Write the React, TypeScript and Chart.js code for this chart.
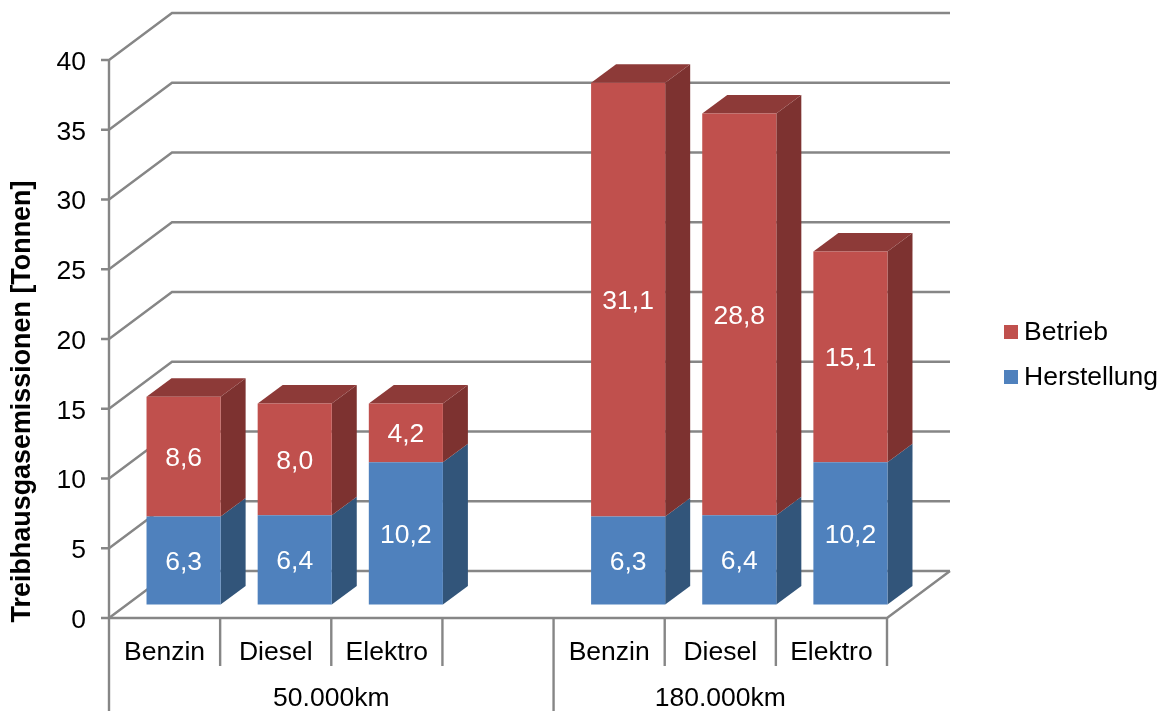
import React, { useEffect, useRef } from "react";
import { Chart, registerables } from "chart.js";

Chart.register(...registerables);

// Cars along the axis; the empty slot separates the two mileage groups.
const categories = ["Benzin", "Diesel", "Elektro", "", "Benzin", "Diesel", "Elektro"];
const herstellung = [6.3, 6.4, 10.2, null, 6.3, 6.4, 10.2];
const betrieb = [8.6, 8.0, 4.2, null, 31.1, 28.8, 15.1];
const groupLabels = ["50.000km", "180.000km"];
const groupEdges = [[0, 4], [4, 7]];
const yTitle = "Treibhausgasemissionen [Tonnen]";

const FONT = '"Liberation Sans"';
const SIZE = 26.5;
const LINE = "#868686";

// Oblique offsets of the box: whole chart depth, bar placement, bar depth.
const WALL = { dx: 63, dy: -47 };
const BAR_SHIFT = { dx: 19, dy: -13.5 };
const BAR_DEPTH = { dx: 25, dy: -18.5 };

const seriesStyle = [
  { front: "#4F81BD", side: "#32557A", top: "#3A6391" },
  { front: "#C0504D", side: "#7D3230", top: "#8D3A38" },
];

function poly(ctx: CanvasRenderingContext2D, pts: number[][], fill: string) {
  ctx.beginPath();
  pts.forEach(([x, y], i) => (i ? ctx.lineTo(x, y) : ctx.moveTo(x, y)));
  ctx.closePath();
  ctx.fillStyle = fill;
  ctx.fill();
}

const boxPlugin = {
  id: "box3d",
  beforeDatasetsDraw(chart: any) {
    const { ctx, scales, chartArea: a } = chart;
    const y = scales.y;
    const slot = (a.right - a.left) / categories.length;

    ctx.save();
    ctx.strokeStyle = LINE;
    ctx.lineWidth = 2.4;
    ctx.lineJoin = "miter";

    // Tick marks, side wall and back wall grid lines.
    y.ticks.forEach((t: any) => {
      const py = y.getPixelForValue(t.value);
      ctx.beginPath();
      ctx.moveTo(a.left - 8, py);
      ctx.lineTo(a.left, py);
      ctx.lineTo(a.left + WALL.dx, py + WALL.dy);
      ctx.lineTo(a.right + WALL.dx, py + WALL.dy);
      ctx.stroke();
    });

    // Floor outline.
    ctx.beginPath();
    ctx.moveTo(a.left, a.bottom);
    ctx.lineTo(a.right, a.bottom);
    ctx.lineTo(a.right + WALL.dx, a.bottom + WALL.dy);
    ctx.stroke();

    // Value axis line.
    ctx.beginPath();
    ctx.moveTo(a.left, a.top - 1);
    ctx.lineTo(a.left, a.bottom);
    ctx.stroke();

    // Category separators under the floor; group edges run to the bottom.
    for (let i = 0; i <= categories.length; i++) {
      const px = a.left + i * slot;
      const isGroupEdge = groupEdges.some((e) => e.includes(i) && i !== 7);
      ctx.beginPath();
      ctx.moveTo(px, a.bottom);
      ctx.lineTo(px, isGroupEdge ? chart.height : a.bottom + 48);
      ctx.stroke();
    }

    // Right and top faces of every bar.
    chart.data.datasets.forEach((_: any, di: number) => {
      const style = seriesStyle[di];
      chart.getDatasetMeta(di).data.forEach((bar: any, i: number) => {
        if (chart.data.datasets[di].data[i] == null) return;
        const { x, y: top, base, width } = bar.getProps(["x", "y", "base", "width"]);
        const r = x + width / 2 + BAR_SHIFT.dx;
        const l = x - width / 2 + BAR_SHIFT.dx;
        const t = top + BAR_SHIFT.dy;
        const b = base + BAR_SHIFT.dy;
        poly(ctx, [[r, t], [r + BAR_DEPTH.dx, t + BAR_DEPTH.dy], [r + BAR_DEPTH.dx, b + BAR_DEPTH.dy], [r, b]], style.side);
        if (di === chart.data.datasets.length - 1) {
          poly(ctx, [[l, t], [l + BAR_DEPTH.dx, t + BAR_DEPTH.dy], [r + BAR_DEPTH.dx, t + BAR_DEPTH.dy], [r, t]], style.top);
        }
      });
    });
    ctx.restore();

    // Front faces sit a little behind the axis plane.
    ctx.save();
    ctx.translate(BAR_SHIFT.dx, BAR_SHIFT.dy);
  },
  afterDatasetsDraw(chart: any) {
    const { ctx, chartArea: a } = chart;
    ctx.restore();

    ctx.save();
    ctx.textBaseline = "middle";
    ctx.textAlign = "center";

    // Value labels in the middle of each front face.
    ctx.font = `${SIZE}px ${FONT}`;
    ctx.fillStyle = "#FFFFFF";
    chart.data.datasets.forEach((ds: any, di: number) => {
      chart.getDatasetMeta(di).data.forEach((bar: any, i: number) => {
        const v = ds.data[i];
        if (v == null) return;
        const { x, y, base } = bar.getProps(["x", "y", "base"]);
        ctx.fillText(v.toFixed(1).replace(".", ","), x + BAR_SHIFT.dx, (y + base) / 2 + BAR_SHIFT.dy + 2);
      });
    });

    // Second level of the category axis.
    const slot = (a.right - a.left) / categories.length;
    ctx.fillStyle = "#000000";
    groupLabels.forEach((label, i) => {
      const [from, to] = groupEdges[i];
      ctx.fillText(label, a.left + ((from + to) / 2) * slot, 699);
    });

    // Legend, topmost series first.
    const items = [...chart.data.datasets].reverse();
    ctx.textAlign = "left";
    items.forEach((ds: any, i: number) => {
      const cy = 332 + i * 45;
      ctx.fillStyle = ds.backgroundColor;
      ctx.fillRect(1004, cy - 7, 14, 14);
      ctx.fillStyle = "#000000";
      ctx.fillText(ds.label, 1024, cy + 1);
    });

    // Value axis title.
    ctx.translate(23, 401.5);
    ctx.rotate(-Math.PI / 2);
    ctx.textAlign = "center";
    ctx.font = `bold 26.9px ${FONT}`;
    ctx.fillText(yTitle, 0, 0);
    ctx.restore();
  },
};

export default function App() {
  const ref = useRef<HTMLCanvasElement>(null);

  useEffect(() => {
    const chart = new Chart(ref.current!, {
      type: "bar",
      data: {
        labels: categories,
        datasets: [
          { label: "Herstellung", data: herstellung, backgroundColor: seriesStyle[0].front, clip: false },
          { label: "Betrieb", data: betrieb, backgroundColor: seriesStyle[1].front, clip: false },
        ],
      } as any,
      plugins: [boxPlugin],
      options: {
        animation: false,
        responsive: false,
        layout: { padding: { top: 60, right: 281, left: 0, bottom: 0 } },
        datasets: { bar: { categoryPercentage: 1, barPercentage: 2 / 3, borderWidth: 0 } },
        plugins: { legend: { display: false }, tooltip: { enabled: false } },
        scales: {
          x: {
            stacked: true,
            grid: { display: false },
            border: { display: false },
            afterFit: (s: any) => { s.height = 93; },
            ticks: {
              autoSkip: false,
              maxRotation: 0,
              padding: 11,
              color: "#000000",
              font: { family: FONT, size: SIZE },
            },
          },
          y: {
            stacked: true,
            min: 0,
            max: 40,
            afterFit: (s: any) => { s.width = 109; },
            grid: { display: false },
            border: { display: false },
            ticks: {
              stepSize: 5,
              padding: 15,
              labelOffset: 2.5,
              color: "#000000",
              font: { family: FONT, size: SIZE },
            },
          },
        },
      } as any,
    });
    return () => chart.destroy();
  }, []);

  return (
    <div style={{ position: "fixed", left: 0, top: 0, width: 1168, height: 711, background: "#FFFFFF" }}>
      <canvas ref={ref} width={1168} height={711} style={{ display: "block" }} />
    </div>
  );
}
